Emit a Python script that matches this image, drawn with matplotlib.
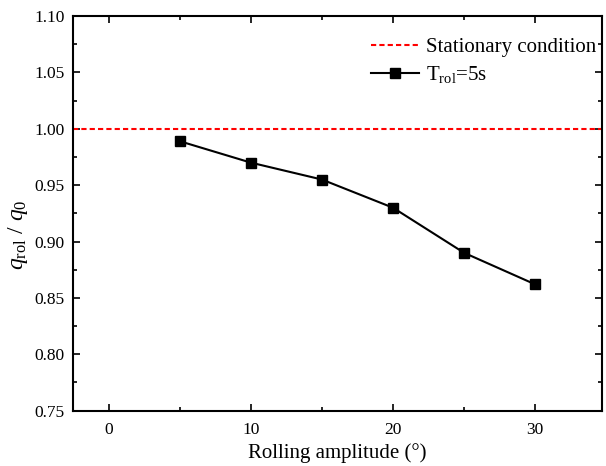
import matplotlib
matplotlib.use("Agg")
import matplotlib.pyplot as plt
from matplotlib.ticker import MultipleLocator

plt.rcParams['font.family'] = ['Liberation Serif', 'DejaVu Serif']
plt.rcParams['mathtext.fontset'] = 'custom'
plt.rcParams['mathtext.rm'] = 'Liberation Serif'
plt.rcParams['mathtext.it'] = 'Liberation Serif:italic'

amplitude = [5, 10, 15, 20, 25, 30]
ratio = [0.989, 0.970, 0.955, 0.930, 0.890, 0.862]
stationary = 1.0
xticks = [0, 10, 20, 30]
yticks = [0.75, 0.80, 0.85, 0.90, 0.95, 1.00, 1.05, 1.10]

fig = plt.figure(figsize=(6.06, 4.66), dpi=100)
ax = fig.add_axes([0.1205, 0.1187, 0.873, 0.8469])

ax.axhline(stationary, color='red', linestyle=(0, (2.5, 1.5)), linewidth=1.5,
           label='Stationary condition')
ax.plot(amplitude, ratio, color='black', linewidth=1.5, marker='s',
        markersize=6.5, label=r'T$_{\rm rol}$=5s')

ax.set_xlim(-2.5, 34.7)
ax.set_ylim(0.75, 1.10)
ax.set_xticks(xticks)
ax.set_yticks(yticks)
ax.set_yticklabels([f"{v:.2f}" for v in yticks])
ax.xaxis.set_minor_locator(MultipleLocator(5))
ax.yaxis.set_minor_locator(MultipleLocator(0.025))
ax.tick_params(which='both', direction='in', top=True, right=True, labelsize=12.5, width=1.2)
ax.tick_params(which='major', length=5)
ax.tick_params(which='minor', length=3)
ax.tick_params(axis='x', pad=8)
ax.tick_params(axis='y', pad=6)
for s in ax.spines.values():
    s.set_linewidth(1.5)

ax.set_xlabel('Rolling amplitude (°)', fontsize=15)
ax.set_ylabel(r'$q_{\rm rol}$ / $q_0$', fontsize=17)
ax.yaxis.set_label_coords(-0.082, 0.445)

ax.legend(loc='upper right', frameon=False, fontsize=15, handlelength=2.3,
          borderaxespad=0.0, borderpad=0.3, labelspacing=0.35, handletextpad=0.3,
          bbox_to_anchor=(1.0, 0.962))

fig.savefig('out.png', dpi=100)
